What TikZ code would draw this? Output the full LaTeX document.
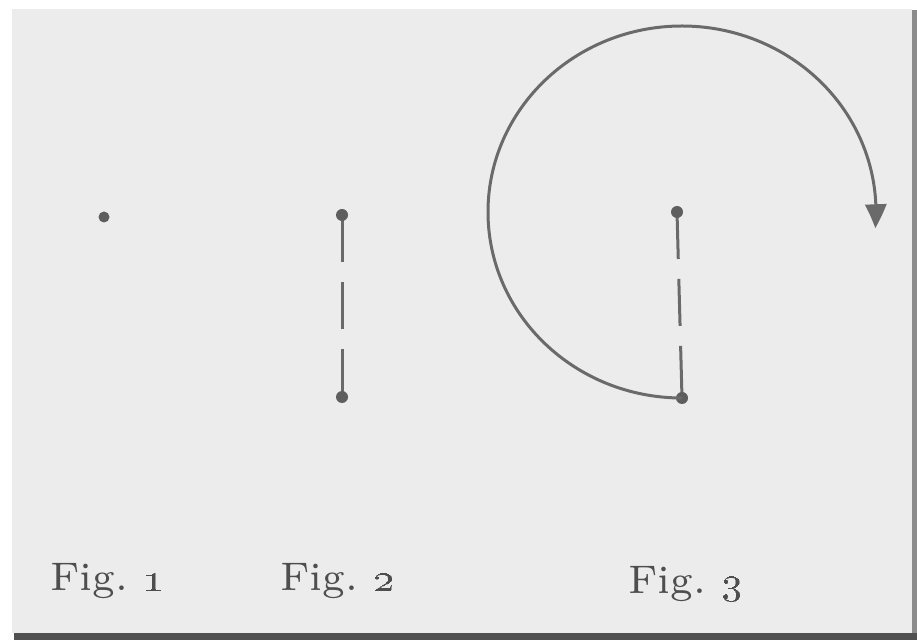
\documentclass[tikz,border=0pt]{standalone}
\usetikzlibrary{arrows.meta,bending}
\usepackage{graphicx}
\definecolor{panel}{HTML}{ECECEC}
\definecolor{ink}{HTML}{6A6A6A}
\definecolor{dotink}{HTML}{5E5E5E}
\definecolor{txt}{HTML}{4E4E4E}
\definecolor{edgedark}{HTML}{505050}
\definecolor{edgeright}{HTML}{8C8C8C}
\pgfdeclarelayer{bg}
\pgfdeclarelayer{lines}
\pgfsetlayers{bg,lines,main}
\newcommand{\figtxt}[1]{\scalebox{5.7}{\fontsize{7}{8}\selectfont #1}}
\tikzset{
  pt/.style={circle,fill=dotink,draw=none,inner sep=0pt,minimum size=12pt},
  dashline/.style={draw=ink,line width=3pt,dash pattern=on 47pt off 20pt},
  turn/.style={draw=ink,line width=3pt,-{Triangle[length=24pt,width=21pt,bend]}},
  figlabel/.style={anchor=base west,inner sep=0pt,text=txt}
}
\begin{document}
\begin{tikzpicture}[x=1pt,y=1pt]
\useasboundingbox (0,0) rectangle (917,640);
\begin{pgfonlayer}{bg}
\fill[white] (0,0) rectangle (917,640);
\fill[edgeright] (911,0) rectangle (917,630);
\fill[edgedark] (14,0) rectangle (917,7);
\fill[panel] (12,7) rectangle (912,631);
\end{pgfonlayer}
% Fig. 1
\node[pt,minimum size=11pt] (f1) at (104,423) {};
% Fig. 2
\node[pt] (f2a) at (342,425) {};
\node[pt] (f2b) at (342,243) {};
% Fig. 3
\node[pt] (f3a) at (677,428) {};
\node[pt] (f3b) at (682,242) {};
\begin{pgfonlayer}{lines}
\draw[dashline] (f2a.center) -- (f2b.center);
\draw[dashline] (f3a.center) -- (f3b.center);
\end{pgfonlayer}
\draw[turn] (f3b.center) arc[start angle=270, end angle=-5, x radius=194, y radius=186];
% labels
\node[figlabel] (l1) at (50,50) {\figtxt{Fig.\ \oldstylenums{1}}};
\node[figlabel] (l2) at (280,50) {\figtxt{Fig.\ \oldstylenums{2}}};
\node[figlabel] (l3) at (628,47) {\figtxt{Fig.\ \oldstylenums{3}}};
\end{tikzpicture}
\end{document}
